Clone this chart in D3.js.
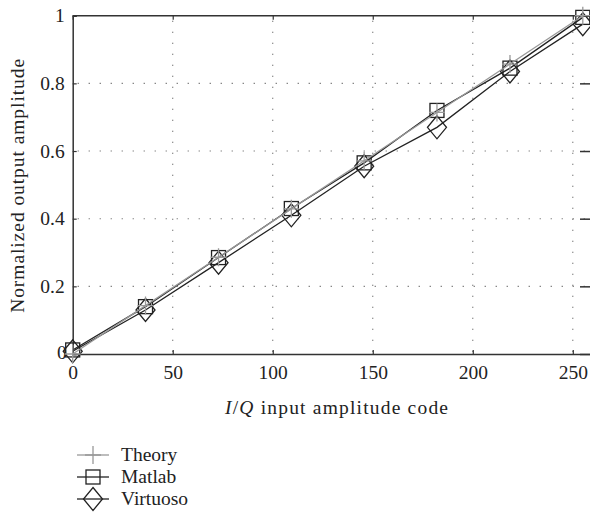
<!DOCTYPE html>
<html><head><meta charset="utf-8">
<script src="https://cdn.jsdelivr.net/npm/d3@7"></script>
<style>body{margin:0;background:#fff}svg{display:block}</style>
</head><body><svg id="c" width="590" height="519"></svg>
<script>
const xCodes = [0, 36.4, 72.9, 109.3, 145.7, 182.1, 218.6, 255];
const theory = [0, 0.143, 0.286, 0.429, 0.571, 0.714, 0.857, 1.0];
const matlab = [0.012, 0.14, 0.285, 0.43, 0.565, 0.72, 0.845, 0.995];
const virtuoso = [0.008, 0.13, 0.27, 0.41, 0.555, 0.67, 0.835, 0.975];
const xTicks = [0, 50, 100, 150, 200, 250];
const yTicks = [0, 0.2, 0.4, 0.6, 0.8, 1];
const seriesNames = ["Theory", "Matlab", "Virtuoso"];

const FONT = '"Liberation Serif","Times New Roman",serif';
const FS = 19.5;
const svg = d3.select("#c");
const L = 72.7, T = 15.7, B = 354, R = 592;
const x = d3.scaleLinear().domain([0, 259.6]).range([L, R]);
const y = d3.scaleLinear().domain([0, 1]).range([B, T]);

// grid
const g = svg.append("g");
g.selectAll(".vg").data(xTicks.slice(1)).enter().append("line")
  .attr("x1", d => x(d)).attr("x2", d => x(d)).attr("y1", T + 5).attr("y2", B)
  .attr("stroke", "#555").attr("stroke-width", 1.1).attr("stroke-dasharray", "1,10");
g.selectAll(".hg").data(yTicks.slice(1, -1)).enter().append("line")
  .attr("y1", d => y(d)).attr("y2", d => y(d)).attr("x1", L + 5).attr("x2", R)
  .attr("stroke", "#555").attr("stroke-width", 1.1).attr("stroke-dasharray", "1,10");

// axes
const xAxis = d3.axisBottom(x).tickValues(xTicks).tickSize(-4).tickPadding(11).tickFormat(d3.format("d"));
const yAxis = d3.axisLeft(y).tickValues(yTicks).tickSize(-4).tickPadding(8).tickFormat(d => d === 0 ? "0" : d === 1 ? "1" : d3.format(".1f")(d));
const xa = svg.append("g").attr("transform", `translate(0,${B})`).call(xAxis);
const ya = svg.append("g").attr("transform", `translate(${L},0)`).call(yAxis);
[xa, ya].forEach(a => {
  a.attr("font-family", null);
  a.select(".domain").attr("stroke", "#333").attr("stroke-width", 1.5);
  a.selectAll(".tick line").attr("stroke", "#333").attr("stroke-width", 1.2);
  a.selectAll("text").attr("font-size", FS).style("font-family", FONT).attr("fill", "#222");
});
xa.selectAll(".tick text").attr("dy", "0.71em");
ya.selectAll(".tick text").filter(d => d === 0).attr("dy", "0.22em").attr("dx", "0.1em");
svg.append("line").attr("x1", L).attr("x2", R).attr("y1", T).attr("y2", T).attr("stroke", "#333").attr("stroke-width", 1.5);
svg.append("g").attr("transform", `translate(0,${T})`).call(d3.axisTop(x).tickValues(xTicks).tickSize(-4).tickFormat(""))
  .call(a => { a.select(".domain").remove(); a.selectAll(".tick line").attr("stroke", "#333").attr("stroke-width", 1.2); });
svg.append("g").attr("transform", `translate(${R},0)`).call(d3.axisRight(y).tickValues(yTicks).tickSize(-12).tickFormat(""))
  .call(a => { a.select(".domain").remove(); a.selectAll(".tick line").attr("stroke", "#333").attr("stroke-width", 1.5); });

// labels
svg.append("text").attr("transform", `translate(24,${(T + B) / 2 + 1}) rotate(-90)`).attr("text-anchor", "middle")
  .style("font-family", FONT).attr("font-size", FS).attr("fill", "#222")
  .attr("textLength", 254).attr("lengthAdjust", "spacing").text("Normalized output amplitude");
const xl = svg.append("text").attr("x", 336.5).attr("y", 414).attr("text-anchor", "middle").attr("font-size", FS)
  .style("font-family", FONT).attr("fill", "#222").attr("textLength", 223).attr("lengthAdjust", "spacing");
xl.append("tspan").attr("font-style", "italic").text("I");
xl.append("tspan").text("/");
xl.append("tspan").attr("font-style", "italic").text("Q");
xl.append("tspan").text(" input amplitude code");

// markers
function drawMarker(sel, type, color) {
  if (type === "plus") {
    sel.append("path").attr("d", "M-8,0H8M0,-9V9").attr("stroke", color).attr("stroke-width", 1.3).attr("fill", "none");
  } else if (type === "square") {
    sel.append("rect").attr("x", -7).attr("y", -7).attr("width", 14).attr("height", 14)
      .attr("stroke", color).attr("stroke-width", 1.3).attr("fill", "none");
  } else {
    sel.append("path").attr("d", "M0,-11.5L9.5,0L0,11.5L-9.5,0Z").attr("stroke", color).attr("stroke-width", 1.3).attr("fill", "none");
  }
}
const series = [
  { name: seriesNames[1], vals: matlab, type: "square", color: "#222" },
  { name: seriesNames[2], vals: virtuoso, type: "diamond", color: "#222" },
  { name: seriesNames[0], vals: theory, type: "plus", color: "#999" }
];
const line = d3.line().x(d => x(d[0])).y(d => y(d[1]));
series.forEach(s => {
  const pts = xCodes.map((c, i) => [c, s.vals[i]]);
  svg.append("path").attr("d", line(pts)).attr("fill", "none").attr("stroke", s.color).attr("stroke-width", 1.3);
  pts.forEach(p => {
    const m = svg.append("g").attr("transform", `translate(${x(p[0])},${y(p[1])})`);
    drawMarker(m, s.type, s.color);
  });
});

// legend
const leg = [
  { name: seriesNames[0], type: "plus", color: "#999", yy: 455 },
  { name: seriesNames[1], type: "square", color: "#222", yy: 477 },
  { name: seriesNames[2], type: "diamond", color: "#222", yy: 499 }
];
leg.forEach(l => {
  svg.append("line").attr("x1", 77).attr("x2", 109).attr("y1", l.yy).attr("y2", l.yy).attr("stroke", l.color).attr("stroke-width", 1.3);
  const m = svg.append("g").attr("transform", `translate(93,${l.yy})`);
  drawMarker(m, l.type, l.color);
  svg.append("text").attr("x", 121).attr("y", l.yy).attr("dy", "0.33em").attr("font-size", FS)
    .style("font-family", FONT).attr("fill", "#222").text(l.name);
});
</script></body></html>
